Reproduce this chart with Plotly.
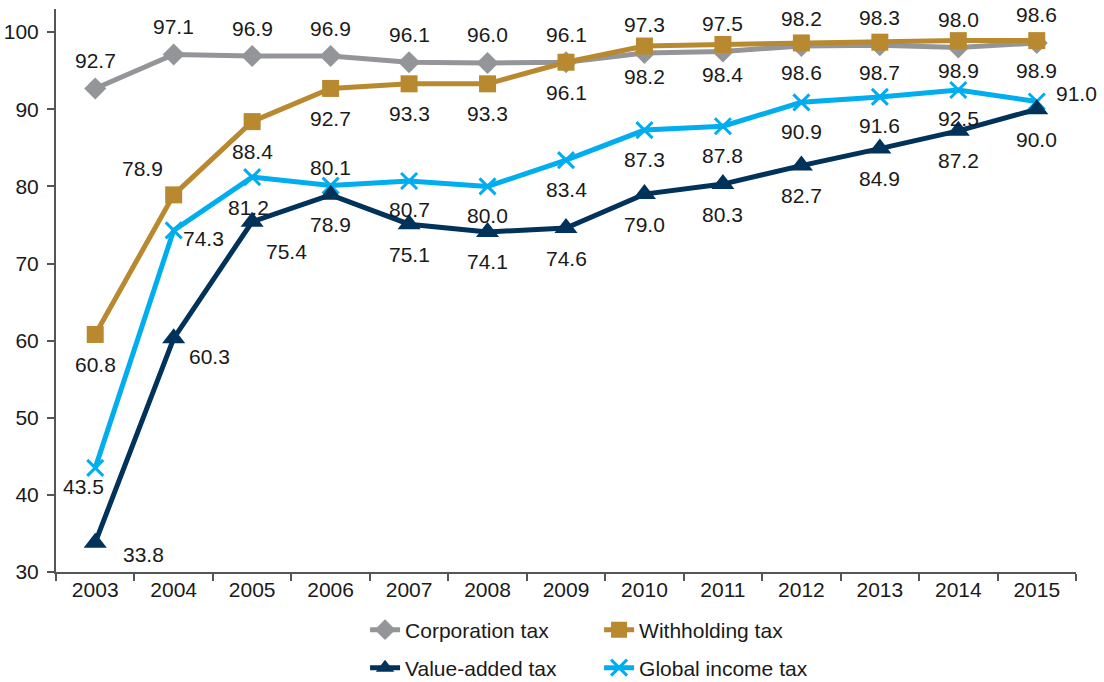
import plotly.graph_objects as go

years = ["2003", "2004", "2005", "2006", "2007", "2008", "2009",
         "2010", "2011", "2012", "2013", "2014", "2015"]
corporation = [92.7, 97.1, 96.9, 96.9, 96.1, 96.0, 96.1, 97.3, 97.5, 98.2, 98.3, 98.0, 98.6]
withholding = [60.8, 78.9, 88.4, 92.7, 93.3, 93.3, 96.1, 98.2, 98.4, 98.6, 98.7, 98.9, 98.9]
value_added = [33.8, 60.3, 75.4, 78.9, 75.1, 74.1, 74.6, 79.0, 80.3, 82.7, 84.9, 87.2, 90.0]
global_income = [43.5, 74.3, 81.2, 80.1, 80.7, 80.0, 83.4, 87.3, 87.8, 90.9, 91.6, 92.5, 91.0]

# label offsets (dx, dy) in pixels, dy positive = up
corp_off = [(0, 28)] * 13
with_off = [(0, -30), (-31, 26)] + [(0, -30)] * 11
vat_off = [(48, -12), (36, -18), (34, -30)] + [(0, -30)] * 10
glob_off = [(-12, -19), (30, -8), (-4, -30), (0, 18)] + [(0, -29)] * 8 + [(40, 8)]

GRAY = "#939598"
GOLD = "#B8892F"
NAVY = "#00325A"
BLUE = "#00AEEF"
FONT = "Liberation Sans, Arial, sans-serif"
FS = 21

fig = go.Figure()
fig.add_trace(go.Scatter(x=years, y=corporation, name="Corporation tax", mode="lines+markers",
                         line=dict(color=GRAY, width=5),
                         marker=dict(symbol="diamond", size=17, color=GRAY), legend="legend"))
fig.add_trace(go.Scatter(x=years, y=withholding, name="Withholding tax", mode="lines+markers",
                         line=dict(color=GOLD, width=5),
                         marker=dict(symbol="square", size=17, color=GOLD), legend="legend"))
fig.add_trace(go.Scatter(x=years, y=global_income, name="Global income tax", mode="lines+markers",
                         line=dict(color=BLUE, width=5),
                         marker=dict(symbol="x-thin", size=16, color=BLUE,
                                     line=dict(color=BLUE, width=3)),
                         legend="legend2", legendrank=2))
fig.add_trace(go.Scatter(x=years, y=value_added, name="Value-added tax", mode="lines+markers",
                         line=dict(color=NAVY, width=5),
                         marker=dict(symbol="triangle-up", size=20, color=NAVY),
                         legend="legend2", legendrank=1))

for vals, offs in [(corporation, corp_off), (withholding, with_off),
                   (value_added, vat_off), (global_income, glob_off)]:
    for i, (v, (dx, dy)) in enumerate(zip(vals, offs)):
        fig.add_annotation(x=i, y=v, text=f"{v:.1f}", showarrow=False,
                           xshift=dx, yshift=dy,
                           font=dict(family=FONT, size=FS, color="#1a1a1a"))

leg_common = dict(orientation="h", xanchor="left", yanchor="middle",
                  entrywidth=189, entrywidthmode="pixels",
                  font=dict(family=FONT, size=FS, color="#1a1a1a"),
                  traceorder="normal", bgcolor="rgba(0,0,0,0)")

fig.update_layout(
    width=1104, height=682,
    margin=dict(l=56, r=28, t=9, b=110, autoexpand=False),
    plot_bgcolor="white", paper_bgcolor="white",
    font=dict(family=FONT, size=FS, color="#1a1a1a"),
    showlegend=True,
    legend=dict(x=0.303, y=-0.103, **leg_common),
    legend2=dict(x=0.303, y=-0.1705, **leg_common),
)
fig.update_xaxes(type="category", range=[-0.5, len(years) - 0.5], autorange=False,
                 showline=True, linecolor="#555555", linewidth=2,
                 ticks="outside", tickson="boundaries", ticklen=7, tickcolor="#555555",
                 tickwidth=2, showgrid=False, tickfont=dict(size=FS), tickangle=0,
                 ticklabelstandoff=-2)
fig.update_yaxes(range=[30, 103], tickvals=[30, 40, 50, 60, 70, 80, 90, 100],
                 showline=True, linecolor="#555555", linewidth=2,
                 ticks="outside", ticklen=7, tickcolor="#555555", tickwidth=2,
                 showgrid=False, zeroline=False, tickfont=dict(size=FS),
                 ticklabelstandoff=4)

fig.write_html("out.html")
